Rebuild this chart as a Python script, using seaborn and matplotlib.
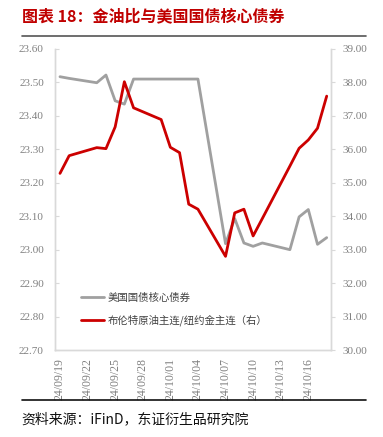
import pandas as pd
import matplotlib
matplotlib.use("Agg")
import matplotlib.pyplot as plt
import matplotlib.dates as mdates
from matplotlib.lines import Line2D
import seaborn as sns

# DATA
bond_dates = ['2024-09-19', '2024-09-20', '2024-09-23', '2024-09-24', '2024-09-25',
              '2024-09-26', '2024-09-27', '2024-09-30', '2024-10-01', '2024-10-02',
              '2024-10-03', '2024-10-04', '2024-10-07', '2024-10-08', '2024-10-09',
              '2024-10-10', '2024-10-11', '2024-10-14', '2024-10-15', '2024-10-16',
              '2024-10-17', '2024-10-18']
bond_values = [23.517, 23.512, 23.499, 23.522, 23.445, 23.435, 23.510, 23.510, 23.510,
               23.510, 23.510, 23.510, 23.018, 23.093, 23.020, 23.010, 23.020, 23.000,
               23.098, 23.120, 23.016, 23.036]

ratio_dates = bond_dates
ratio_values = [35.28, 35.81, 36.05, 36.02, 36.67, 38.02, 37.24, 36.89, 36.06, 35.90,
                34.36, 34.21, 32.80, 34.10, 34.21, 33.41, 33.93, 35.50, 36.03, 36.28,
                36.63, 37.59]

bond_label = '美国国债核心债券'
ratio_label = '布伦特原油主连/纽约金主连（右）'
title = '图表 18：金油比与美国国债核心债券'
source = '资料来源：iFinD，东证衍生品研究院'

GRAY = '#A0A0A0'
RED = '#CC0000'
TICK_C = '#808080'
SPINE_C = '#D9D9D9'

sns.set_style('white')
plt.rcParams['font.family'] = ['Liberation Serif', 'Noto Sans CJK SC', 'DejaVu Sans']
cjk = ['Noto Sans CJK SC', 'DejaVu Sans']

bond_df = pd.DataFrame({'date': pd.to_datetime(bond_dates), 'value': bond_values})
ratio_df = pd.DataFrame({'date': pd.to_datetime(ratio_dates), 'value': ratio_values})

fig = plt.figure(figsize=(3.83, 4.37), dpi=100)
ax = fig.add_axes([0.1436, 0.199, 0.864 - 0.1436, 0.888 - 0.199])
ax2 = ax.twinx()

sns.lineplot(data=bond_df, x='date', y='value', ax=ax, color=GRAY, linewidth=2.0)
sns.lineplot(data=ratio_df, x='date', y='value', ax=ax2, color=RED, linewidth=2.0)

start = pd.Timestamp('2024-09-19')
end = pd.Timestamp('2024-10-18')
ax.set_xlim(start - pd.Timedelta(hours=13), end + pd.Timedelta(hours=11))
ax.set_ylim(22.7, 23.6)
ax2.set_ylim(30, 39)
ax.set_yticks([22.7 + 0.1 * i for i in range(10)])
ax2.set_yticks(list(range(30, 40)))
ax.yaxis.set_major_formatter(plt.FormatStrFormatter('%.2f'))
ax2.yaxis.set_major_formatter(plt.FormatStrFormatter('%.2f'))

ax.set_xticks(pd.date_range(start, end, freq='3D'))
ax.xaxis.set_major_formatter(mdates.DateFormatter('%y/%m/%d'))
for lbl in ax.get_xticklabels():
    lbl.set_rotation(90)

for a in (ax, ax2):
    a.set_xlabel('')
    a.set_ylabel('')
    a.spines['top'].set_visible(False)
    for s in ('left', 'right', 'bottom'):
        a.spines[s].set_color(SPINE_C)
        a.spines[s].set_linewidth(1.0)
    a.grid(False)

ax.tick_params(axis='y', direction='in', length=3, color=SPINE_C, labelsize=8,
               labelcolor=TICK_C, pad=8)
ax2.tick_params(axis='y', direction='out', length=3, color=SPINE_C, labelsize=8,
                labelcolor=TICK_C, pad=5)
ax.tick_params(axis='x', direction='out', length=3, color=SPINE_C, labelsize=8.5,
               labelcolor=TICK_C, pad=3)

handles = [Line2D([], [], color=GRAY, linewidth=2.0),
           Line2D([], [], color=RED, linewidth=2.0)]
ax2.legend(handles, [bond_label, ratio_label], loc='upper left',
           bbox_to_anchor=(0.06, 0.223), frameon=False, handlelength=2.2,
           handletextpad=0.4, labelspacing=1.2,
           prop={'family': cjk, 'size': 7.5}, labelcolor='#404040')

fig.text(0.057, 0.963, title, color='#C00000', fontsize=11.5, fontweight='bold',
         family=cjk, va='center', ha='left')
fig.add_artist(Line2D([0.057, 0.956], [0.9176, 0.9176], color='#555555', linewidth=1.2))
fig.add_artist(Line2D([0.057, 0.956], [0.084, 0.084], color='#111111', linewidth=1.2))
fig.text(0.057, 0.041, source, color='#111111', fontsize=10, family=cjk,
         va='center', ha='left')

fig.savefig('out.png', dpi=100)
